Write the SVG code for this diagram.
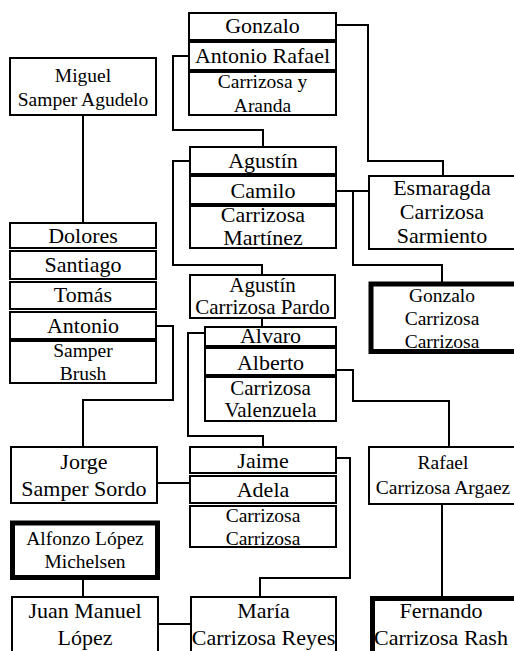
<svg xmlns="http://www.w3.org/2000/svg" width="514" height="651" viewBox="0 0 514 651" font-family="Liberation Serif, Times New Roman, serif">
  <style>
    .box { fill: #fff; stroke: #000; stroke-width: 2; }
    .thick { fill: #fff; stroke: #000; stroke-width: 5; }
    .wire { fill: none; stroke: #000; stroke-width: 2; }
    .lg { font-size: 22px; }
    .sm { font-size: 19.5px; }
    .md { font-size: 21px; }
  </style>
  <rect width="514" height="651" fill="#fff"/>

  <!-- connectors -->
  <g id="connectors">
    <polyline class="wire" points="337,25 368,25 368,161 443,161 443,176"/>
    <polyline class="wire" points="189,56 173,56 173,130 263,130 263,147"/>
    <polyline class="wire" points="190,161 173,161 173,265 262,265 262,275"/>
    <polyline class="wire" points="336,191 369,191"/>
    <polyline class="wire" points="353,191 353,265 442,265 442,282"/>
    <polyline class="wire" points="262,318 262,327"/>
    <polyline class="wire" points="205,333 188,333 188,436 263,436 263,447"/>
    <polyline class="wire" points="336,370 353,370 353,401 449,401 449,447"/>
    <polyline class="wire" points="83,115 83,223"/>
    <polyline class="wire" points="156,326 173,326 173,400 83,400 83,447"/>
    <polyline class="wire" points="157,483 190,483"/>
    <polyline class="wire" points="335,458 350,458 350,578 260,578 260,597"/>
    <polyline class="wire" points="442,504 442,597"/>
    <polyline class="wire" points="83,578 83,597"/>
    <polyline class="wire" points="158,624 191,624"/>
  </g>

  <g text-anchor="middle" fill="#000">
  <!-- Gonzalo / Antonio Rafael Carrizosa y Aranda -->
  <g id="carrizosa-aranda">
    <rect class="box" x="189" y="13" width="147" height="27"/>
    <rect class="box" x="189" y="42" width="147" height="28"/>
    <rect class="box" x="189" y="72" width="147" height="43"/>
    <text class="lg" x="262.5" y="33">Gonzalo</text>
    <text class="lg" x="262.5" y="63">Antonio Rafael</text>
    <text class="sm" x="262.5" y="88">Carrizosa y</text>
    <text class="sm" x="262.5" y="112">Aranda</text>
  </g>

  <!-- Miguel Samper Agudelo -->
  <g id="miguel-samper">
    <rect class="box" x="10" y="58" width="146" height="57"/>
    <text class="sm" x="83" y="82">Miguel</text>
    <text class="sm" x="83" y="106">Samper Agudelo</text>
  </g>

  <!-- Agustín / Camilo Carrizosa Martínez -->
  <g id="carrizosa-martinez">
    <rect class="box" x="190" y="147" width="146" height="27"/>
    <rect class="box" x="190" y="176" width="146" height="28"/>
    <rect class="box" x="190" y="206" width="146" height="42"/>
    <text class="lg" x="263" y="168">Agustín</text>
    <text class="lg" x="263" y="198">Camilo</text>
    <text class="lg" x="263" y="222">Carrizosa</text>
    <text class="lg" x="263" y="245">Martínez</text>
  </g>

  <!-- Esmaragda Carrizosa Sarmiento -->
  <g id="esmaragda">
    <rect class="box" x="369" y="176" width="146" height="73"/>
    <text class="lg" x="442" y="195">Esmaragda</text>
    <text class="lg" x="442" y="219">Carrizosa</text>
    <text class="lg" x="442" y="243">Sarmiento</text>
  </g>

  <!-- Gonzalo Carrizosa Carrizosa -->
  <g id="gonzalo-cc">
    <rect class="thick" x="371" y="284" width="146" height="67.5"/>
    <text class="sm" x="442" y="302">Gonzalo</text>
    <text class="sm" x="442" y="325">Carrizosa</text>
    <text class="sm" x="442" y="348">Carrizosa</text>
  </g>

  <!-- Dolores / Santiago / Tomás / Antonio Samper Brush -->
  <g id="samper-brush">
    <rect class="box" x="10" y="223" width="146" height="25"/>
    <rect class="box" x="10" y="251" width="146" height="28"/>
    <rect class="box" x="10" y="282" width="146" height="27"/>
    <rect class="box" x="10" y="312" width="146" height="27"/>
    <rect class="box" x="10" y="341" width="146" height="42"/>
    <text class="lg" x="83" y="243">Dolores</text>
    <text class="lg" x="83" y="272">Santiago</text>
    <text class="lg" x="83" y="302">Tomás</text>
    <text class="lg" x="83" y="333">Antonio</text>
    <text class="sm" x="83" y="357">Samper</text>
    <text class="sm" x="83" y="380">Brush</text>
  </g>

  <!-- Agustín Carrizosa Pardo -->
  <g id="agustin-pardo">
    <rect class="box" x="190" y="275" width="145" height="43"/>
    <text class="md" x="262.5" y="292">Agustín</text>
    <text class="md" x="262.5" y="314">Carrizosa Pardo</text>
  </g>

  <!-- Alvaro / Alberto Carrizosa Valenzuela -->
  <g id="carrizosa-valenzuela">
    <rect class="box" x="205" y="327" width="131" height="19"/>
    <rect class="box" x="205" y="348" width="131" height="27"/>
    <rect class="box" x="205" y="377" width="131" height="44"/>
    <text class="lg" x="270.5" y="343">Alvaro</text>
    <text class="lg" x="270.5" y="370">Alberto</text>
    <text class="md" x="270.5" y="395">Carrizosa</text>
    <text class="md" x="270.5" y="417">Valenzuela</text>
  </g>

  <!-- Jorge Samper Sordo -->
  <g id="jorge-samper">
    <rect class="box" x="11" y="447" width="146" height="56"/>
    <text class="lg" x="84" y="469">Jorge</text>
    <text class="lg" x="84" y="496">Samper Sordo</text>
  </g>

  <!-- Jaime / Adela Carrizosa Carrizosa -->
  <g id="carrizosa-carrizosa">
    <rect class="box" x="190" y="447" width="146" height="26"/>
    <rect class="box" x="190" y="476" width="146" height="27"/>
    <rect class="box" x="190" y="506" width="146" height="41"/>
    <text class="lg" x="263" y="468">Jaime</text>
    <text class="lg" x="263" y="497">Adela</text>
    <text class="sm" x="263" y="522">Carrizosa</text>
    <text class="sm" x="263" y="545">Carrizosa</text>
  </g>

  <!-- Rafael Carrizosa Argaez -->
  <g id="rafael-argaez">
    <rect class="box" x="369" y="447" width="146" height="57"/>
    <text class="sm" x="443" y="469">Rafael</text>
    <text class="sm" x="443" y="494">Carrizosa Argaez</text>
  </g>

  <!-- Alfonzo López Michelsen -->
  <g id="alfonzo-lopez">
    <rect class="thick" x="12.5" y="523" width="145" height="54.5"/>
    <text class="sm" x="85" y="545">Alfonzo López</text>
    <text class="sm" x="85" y="568">Michelsen</text>
  </g>

  <!-- Juan Manuel López -->
  <g id="juan-manuel">
    <rect class="box" x="12" y="597" width="146" height="80"/>
    <text class="lg" x="85" y="618">Juan Manuel</text>
    <text class="lg" x="85" y="645">López</text>
  </g>

  <!-- María Carrizosa Reyes -->
  <g id="maria-reyes">
    <rect class="box" x="191" y="597" width="145" height="80"/>
    <text class="lg" x="263.5" y="618">María</text>
    <text class="lg" x="263.5" y="645">Carrizosa Reyes</text>
  </g>

  <!-- Fernando Carrizosa Rash -->
  <g id="fernando-rash">
    <rect class="thick" x="372.5" y="598.5" width="146" height="80"/>
    <text class="lg" x="441" y="618">Fernando</text>
    <text class="lg" x="441" y="645">Carrizosa Rash</text>
  </g>
  </g>
</svg>
